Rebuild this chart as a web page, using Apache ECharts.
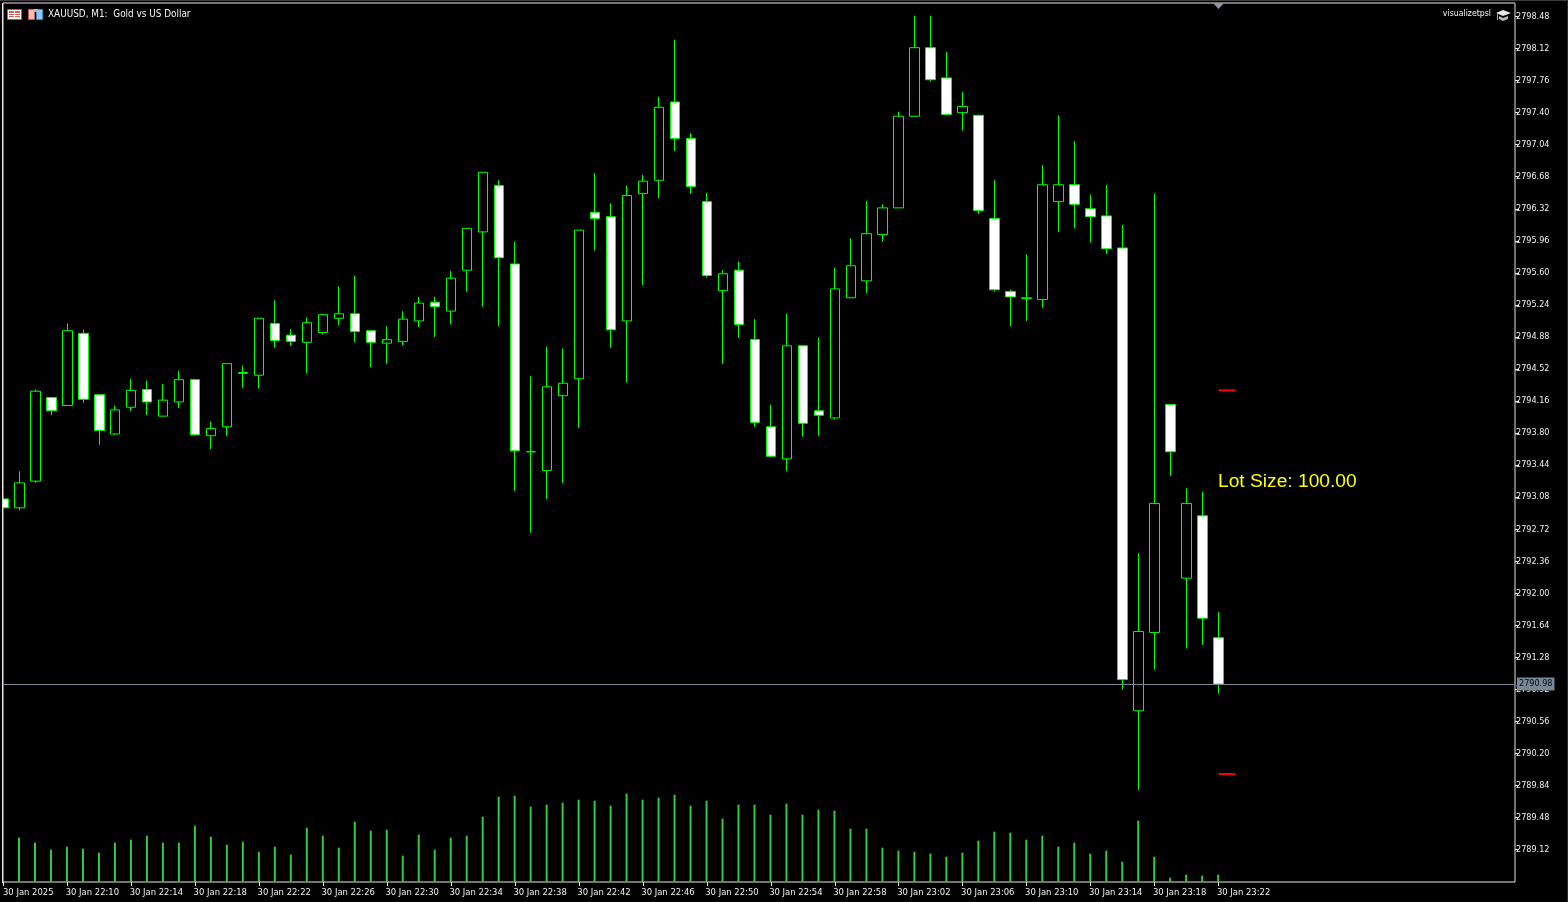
<!DOCTYPE html>
<html><head><meta charset="utf-8">
<style>html,body{margin:0;padding:0;background:#000;}#c{width:1568px;height:902px;}</style>
<script src="https://cdn.jsdelivr.net/npm/echarts@6/dist/echarts.min.js"></script>
</head><body><div id="c"></div>
<script>
const opens=[2793.06,2792.96,2793.26,2794.20,2794.11,2794.92,2794.23,2793.79,2794.09,2794.29,2793.99,2794.15,2794.40,2793.77,2793.87,2794.47,2794.45,2795.03,2794.90,2794.82,2794.93,2795.09,2795.14,2794.95,2794.81,2794.83,2795.06,2795.27,2795.17,2795.63,2796.06,2796.58,2795.70,2793.59,2793.38,2794.22,2794.41,2796.28,2796.23,2795.06,2796.49,2796.64,2797.52,2797.11,2796.40,2795.40,2795.63,2794.85,2793.87,2793.51,2794.78,2794.05,2793.97,2795.32,2795.51,2796.03,2796.33,2797.36,2798.13,2797.79,2797.40,2797.37,2796.21,2795.39,2795.31,2795.30,2796.40,2796.59,2796.32,2796.24,2795.88,2790.68,2791.56,2794.12,2792.17,2792.87,2791.50];
const closes=[2792.96,2793.24,2794.27,2794.05,2794.95,2794.18,2793.83,2794.06,2794.28,2794.15,2794.17,2794.40,2793.78,2793.85,2794.58,2794.48,2795.09,2794.84,2794.83,2795.04,2795.13,2795.14,2794.94,2794.82,2794.85,2795.08,2795.26,2795.22,2795.54,2796.10,2796.73,2795.77,2793.60,2793.59,2794.32,2794.36,2796.08,2796.21,2794.96,2796.47,2796.63,2797.46,2797.11,2796.57,2795.57,2795.59,2795.02,2793.92,2793.54,2794.78,2793.91,2794.00,2795.42,2795.68,2796.04,2796.33,2797.36,2798.13,2797.77,2797.38,2797.47,2796.30,2795.41,2795.33,2795.32,2796.59,2796.59,2796.37,2796.23,2795.87,2791.03,2791.57,2793.01,2793.59,2793.01,2791.72,2790.98];
const lows=[2792.95,2792.93,2793.24,2794.00,2794.11,2794.14,2793.67,2793.78,2794.05,2794.00,2793.99,2794.08,2793.77,2793.62,2793.77,2794.31,2794.30,2794.76,2794.78,2794.47,2794.91,2795.01,2794.82,2794.54,2794.58,2794.79,2794.99,2794.88,2795.02,2795.39,2795.22,2795.00,2793.15,2792.68,2793.06,2793.24,2793.86,2795.85,2794.76,2794.37,2795.46,2796.44,2796.97,2796.49,2795.55,2794.58,2794.87,2793.87,2793.53,2793.37,2793.76,2793.77,2793.95,2795.32,2795.37,2795.95,2796.33,2797.36,2797.75,2797.38,2797.20,2796.26,2795.39,2795.00,2795.06,2795.21,2796.06,2796.10,2795.94,2795.81,2790.92,2789.79,2791.14,2793.32,2791.38,2791.42,2790.87];
const highs=[2793.08,2793.37,2794.29,2794.20,2795.03,2794.96,2794.23,2794.11,2794.41,2794.39,2794.35,2794.50,2794.41,2793.93,2794.58,2794.56,2795.09,2795.29,2794.97,2795.10,2795.14,2795.45,2795.57,2794.95,2795.00,2795.17,2795.33,2795.33,2795.62,2796.10,2796.73,2796.64,2795.95,2794.44,2794.77,2794.75,2796.08,2796.72,2796.38,2796.58,2796.70,2797.58,2798.22,2797.17,2796.50,2795.63,2795.73,2795.08,2794.12,2795.14,2794.78,2794.87,2795.66,2795.99,2796.41,2796.37,2797.41,2798.49,2798.49,2798.08,2797.63,2797.38,2796.64,2795.41,2795.81,2796.81,2797.37,2797.08,2796.48,2796.59,2796.14,2792.45,2796.49,2794.12,2793.18,2793.14,2791.79];
const volumes=[null,133,118,97,106,100,88,118,127,139,118,118,169,136,112,121,91,106,82,163,139,103,181,154,157,79,142,97,133,139,196,256,259,226,232,238,247,244,229,265,247,253,262,229,244,190,232,232,202,235,202,217,214,160,160,103,94,91,85,76,88,124,151,148,127,139,106,118,85,94,61,184,76,13,22,19,22];
const yTickLabels=['2798.48','2798.12','2797.76','2797.40','2797.04','2796.68','2796.32','2795.96','2795.60','2795.24','2794.88','2794.52','2794.16','2793.80','2793.44','2793.08','2792.72','2792.36','2792.00','2791.64','2791.28','2790.92','2790.56','2790.20','2789.84','2789.48','2789.12'];
const xTickIndex=[0,4,8,12,16,20,24,28,32,36,40,44,48,52,56,60,64,68,72,76];
const xTickLabels=['30 Jan 2025','30 Jan 22:10','30 Jan 22:14','30 Jan 22:18','30 Jan 22:22','30 Jan 22:26','30 Jan 22:30','30 Jan 22:34','30 Jan 22:38','30 Jan 22:42','30 Jan 22:46','30 Jan 22:50','30 Jan 22:54','30 Jan 22:58','30 Jan 23:02','30 Jan 23:06','30 Jan 23:10','30 Jan 23:14','30 Jan 23:18','30 Jan 23:22'];
const currentPrice=2790.98;
const upperLevel=2794.28;
const lowerLevel=2789.97;
const levelStart=76, levelEnd=77.06;
const lastBar=76;
const title='XAUUSD, M1:  Gold vs US Dollar';
const expertName='visualizetpsl';
const lotText='Lot Size: 100.00';

const FONT='"DejaVu Sans Condensed", "Liberation Sans", Arial, sans-serif';
const LOTFONT='"Liberation Sans", Arial, sans-serif';
const FRAME='#e6e6e6';
const candleData=opens.map((o,i)=>[i,o,closes[i],lows[i],highs[i]]);
const volData=volumes.map((v,i)=>[i,v]).filter(d=>d[1]!==null);
const yVals=yTickLabels.map(Number);
// labels start just left of their tick, as in the reference
const labelShift=0.1;
const xLabelAt=xTickIndex.map(v=>v===0?-0.02:v-labelShift);

const chart=echarts.init(document.getElementById('c'),null,{renderer:'canvas'});
chart.setOption({
  animation:false,
  backgroundColor:'#000',
  grid:{left:2,top:3,width:1513,height:879,show:true,borderColor:FRAME,borderWidth:1,backgroundColor:'#000'},
  xAxis:[{type:'value',min:-0.02,max:94.5425,splitLine:{show:false},axisLine:{show:false,onZero:false},
    axisTick:{show:true,length:4,lineStyle:{color:FRAME},customValues:xTickIndex},
    axisLabel:{show:true,customValues:xLabelAt,formatter:v=>xTickLabels[xLabelAt.indexOf(v)],
      color:'#f0f0f0',fontFamily:FONT,fontSize:9.4,align:'left',margin:6}},
    {type:'value',min:0,max:94.5625,show:false,splitLine:{show:false}}],
  yAxis:[{type:'value',position:'right',min:2788.756,max:2798.632,splitLine:{show:false},axisLine:{show:false,onZero:false},
      axisTick:{show:true,length:4,lineStyle:{color:FRAME},customValues:yVals},
      axisLabel:{show:true,customValues:yVals,formatter:v=>v.toFixed(2),color:'#f0f0f0',fontFamily:FONT,fontSize:9,margin:1}},
    {type:'value',position:'right',min:0,max:2637,show:false,splitLine:{show:false}}],
  series:[
    {type:'bar',name:'Volume',xAxisIndex:1,yAxisIndex:1,data:volData,barWidth:2,itemStyle:{color:'#32CD32'},silent:true,z:1},
    {type:'candlestick',name:'XAUUSD',data:candleData,encode:{x:0,y:[1,2,3,4]},barWidth:10,
      itemStyle:{color:'#000000',color0:'#ffffff',borderColor:'#00FF00',borderColor0:'#00FF00',borderColorDoji:'#00FF00',borderWidth:1},
      silent:true,z:2,
      markLine:{silent:true,symbol:'none',animation:false,z:3,
        lineStyle:{color:'#778899',width:1,type:'solid'},
        label:{show:true,position:'end',formatter:()=>currentPrice.toFixed(2),color:'#0a0a0a',backgroundColor:'#778899',
          fontFamily:FONT,fontSize:9,padding:[3,2,1,2],distance:2},
        data:[{yAxis:currentPrice}]},
      markPoint:{silent:true,animation:false,symbol:'triangle',symbolRotate:180,symbolSize:[11,6],symbolOffset:[0,3],
        itemStyle:{color:'#8a98a8'},label:{show:false},data:[{coord:[lastBar,2798.632]}]}
    },
    {type:'line',name:'Upper level',data:[[levelStart,upperLevel],[levelEnd,upperLevel]],symbol:'none',lineStyle:{color:'#ff0000',width:2},silent:true,z:4},
    {type:'line',name:'Lower level',data:[[levelStart,lowerLevel],[levelEnd,lowerLevel]],symbol:'none',lineStyle:{color:'#ff0000',width:2},silent:true,z:4}
  ],
  graphic:[
    {type:'rect',shape:{x:0,y:0,width:2,height:902},z:8,style:{fill:'#000'}},
    {type:'rect',shape:{x:2,y:3,width:1,height:880},z:9,style:{fill:FRAME}},
    {type:'text',left:1218,top:472,z:10,style:{text:lotText,fill:'#FFFF00',font:'19.2px '+LOTFONT}},
    {type:'text',left:48,top:9,z:10,style:{text:title,fill:'#f4f4f4',font:'9.9px '+FONT}},
    {type:'text',right:77,top:9,z:10,style:{text:expertName,fill:'#f4f4f4',font:'8.7px '+FONT,textAlign:'right'}},
    {type:'group',x:7,y:9,z:10,children:[
      {type:'rect',shape:{x:0.5,y:0.5,width:14,height:10},style:{fill:'#f8f8f8',stroke:'#3a7fc4'}},
      {type:'rect',shape:{x:2,y:2,width:5,height:2},style:{fill:'#e45b4f'}},
      {type:'rect',shape:{x:8,y:2,width:5,height:2},style:{fill:'#e45b4f'}},
      {type:'rect',shape:{x:2,y:5,width:5,height:1},style:{fill:'#e45b4f'}},
      {type:'rect',shape:{x:8,y:5,width:5,height:1},style:{fill:'#e45b4f'}},
      {type:'rect',shape:{x:2,y:7,width:5,height:1},style:{fill:'#e45b4f'}},
      {type:'rect',shape:{x:8,y:7,width:5,height:1},style:{fill:'#e45b4f'}}
    ]},
    {type:'group',x:28,y:8,z:10,children:[
      {type:'rect',shape:{x:0.5,y:1.5,width:6,height:10},style:{fill:'#f7c0b8',stroke:'#d9534a'}},
      {type:'rect',shape:{x:8.5,y:1.5,width:6,height:10},style:{fill:'#8cc8f0',stroke:'#2f8fd0'}},
      {type:'rect',shape:{x:5,y:1,width:5,height:3},style:{fill:'#b8b8b8'}}
    ]},
    {type:'group',x:1496,y:9,z:10,children:[
      {type:'polygon',shape:{points:[[0,4],[7,1],[15,4],[7,7]]},style:{fill:'#e8e8e8'}},
      {type:'polygon',shape:{points:[[3,7],[7,9],[12,7],[12,10],[7,12],[3,10]]},style:{fill:'#b8b8b8'}},
      {type:'rect',shape:{x:1,y:5,width:1,height:6},style:{fill:'#a0a0a0'}}
    ]},
    {type:'rect',shape:{x:0,y:0,width:1568,height:1},z:9,style:{fill:'#3c3c3c'}},
    {type:'rect',shape:{x:1567,y:0,width:1,height:902},z:9,style:{fill:'#2a2a2a'}}
  ]
});
</script></body></html>
